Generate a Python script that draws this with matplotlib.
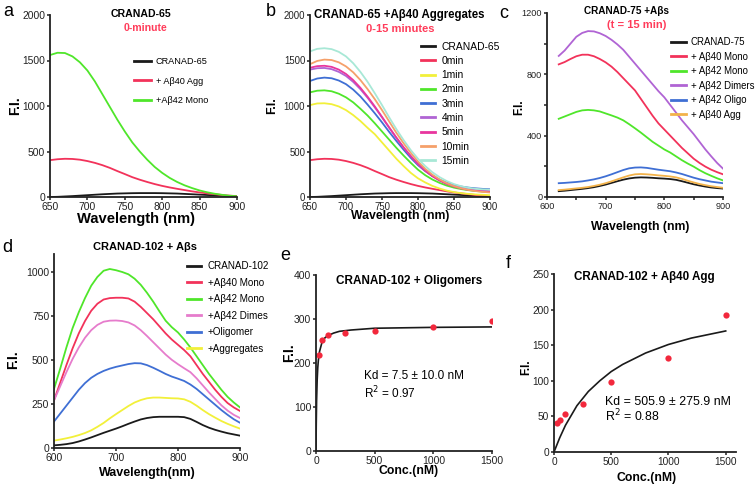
import matplotlib
matplotlib.use("Agg")
import matplotlib.pyplot as plt
import numpy as np

plt.rcParams['font.family'] = ['Liberation Sans', 'DejaVu Sans']

W, H = 756, 487

# ---------------- data ----------------
# panel a / b: wavelength 650-900 step 10
wl_ab = list(range(650, 901, 10))
a_cranad65 = [0, 2, 6, 10, 15, 20, 25, 30, 34, 38, 40, 42, 43, 43, 43, 42, 40, 38, 34, 30, 26, 22, 18, 14, 11, 8]
a_ab40agg = [405, 415, 420, 418, 410, 395, 375, 350, 320, 285, 252, 218, 190, 165, 142, 122, 105, 90, 76, 62, 50, 40, 31, 22, 15, 10]
a_ab42mono = [1560, 1585, 1582, 1545, 1480, 1390, 1270, 1130, 990, 850, 720, 600, 500, 410, 330, 265, 210, 165, 128, 98, 72, 52, 36, 24, 14, 8]

b_1min = [1010, 1028, 1030, 1020, 995, 955, 900, 835, 760, 690, 600, 510, 420, 340, 265, 205, 160, 122, 93, 70, 54, 42, 34, 28, 24, 20]
b_2min = [1150, 1168, 1172, 1162, 1135, 1095, 1040, 970, 895, 810, 720, 630, 540, 455, 375, 300, 240, 192, 155, 125, 103, 87, 75, 66, 60, 55]
b_3min = [1275, 1302, 1312, 1305, 1280, 1240, 1180, 1105, 1015, 920, 820, 715, 615, 520, 430, 350, 285, 232, 190, 158, 133, 115, 103, 95, 89, 85]
b_4min = [1400, 1415, 1418, 1405, 1375, 1330, 1265, 1185, 1090, 985, 875, 760, 650, 545, 450, 365, 292, 232, 185, 148, 120, 100, 86, 76, 70, 65]
b_5min = [1420, 1438, 1442, 1430, 1400, 1352, 1285, 1200, 1102, 995, 880, 765, 652, 545, 448, 362, 288, 228, 180, 143, 115, 94, 79, 69, 62, 58]
b_10min = [1460, 1495, 1510, 1505, 1480, 1435, 1370, 1285, 1185, 1075, 955, 830, 705, 590, 485, 390, 310, 245, 193, 152, 120, 96, 78, 65, 56, 50]
b_15min = [1600, 1628, 1635, 1625, 1595, 1545, 1470, 1375, 1265, 1140, 1010, 875, 745, 625, 515, 420, 340, 272, 218, 175, 142, 118, 101, 90, 84, 80]

# panel c: wavelength 620-900 step 10
wl_c = list(range(620, 901, 10))
c_cranad75 = [38, 41, 45, 49, 53, 58, 64, 72, 81, 92, 103, 113, 121, 126, 128, 127, 125, 122, 120, 117, 112, 103, 93, 83, 75, 68, 62, 58, 55]
c_ab40mono = [865, 880, 900, 918, 928, 928, 918, 900, 878, 850, 815, 775, 735, 695, 640, 585, 530, 480, 440, 400, 360, 320, 285, 250, 222, 198, 178, 162, 148]
c_ab42mono = [510, 525, 540, 555, 565, 568, 565, 558, 545, 532, 518, 500, 475, 448, 420, 390, 360, 335, 310, 290, 265, 240, 218, 198, 175, 155, 138, 122, 108]
c_ab42dim = [920, 955, 1000, 1045, 1070, 1082, 1080, 1068, 1050, 1025, 995, 960, 915, 870, 825, 780, 735, 690, 650, 600, 550, 500, 455, 410, 360, 310, 265, 222, 185]
c_ab42oligo = [90, 92, 95, 98, 102, 108, 115, 124, 135, 148, 162, 176, 187, 192, 193, 190, 184, 178, 173, 168, 160, 150, 138, 126, 116, 108, 100, 95, 90]
c_ab40agg = [45, 48, 52, 56, 60, 65, 72, 80, 90, 102, 115, 128, 140, 148, 150, 148, 145, 141, 138, 134, 128, 118, 106, 95, 85, 77, 70, 65, 60]

# panel d: wavelength 600-900 step 10
wl_d = list(range(600, 901, 10))
d_cranad102 = [15, 18, 22, 28, 37, 48, 60, 73, 86, 98, 110, 123, 137, 150, 162, 170, 175, 177, 177, 177, 177, 175, 165, 148, 130, 115, 103, 93, 84, 77, 70]
d_ab40mono = [270, 370, 470, 565, 650, 720, 778, 818, 842, 850, 852, 852, 848, 830, 800, 765, 730, 690, 650, 615, 585, 555, 520, 470, 420, 375, 330, 290, 255, 230, 210]
d_ab42mono = [335, 450, 570, 680, 770, 850, 920, 970, 1005, 1015, 1008, 998, 985, 960, 925, 880, 830, 775, 722, 685, 655, 615, 570, 520, 470, 420, 375, 330, 290, 258, 230]
d_ab42dim = [270, 350, 430, 505, 570, 625, 668, 698, 716, 722, 723, 720, 712, 695, 668, 635, 600, 565, 530, 500, 475, 452, 430, 395, 355, 315, 278, 242, 212, 188, 170]
d_oligomer = [150, 195, 240, 285, 330, 368, 398, 420, 437, 450, 460, 468, 476, 481, 480, 470, 455, 438, 420, 405, 393, 380, 360, 335, 305, 275, 245, 215, 188, 163, 143]
d_aggregates = [42, 48, 55, 63, 73, 85, 100, 120, 142, 168, 192, 215, 238, 258, 272, 282, 286, 286, 284, 282, 281, 276, 262, 240, 215, 192, 172, 153, 137, 123, 110]

# panel e / f: binding
conc = [25, 50, 100, 250, 500, 1000, 1500]
e_fi = [218, 252, 263, 269, 273, 282, 296]
e_fit_x = [0, 2, 5, 10, 15, 20, 30, 50, 75, 100, 150, 200, 300, 500, 750, 1000, 1500]
e_fit_y = [0, 59, 114, 162, 189, 206, 226, 246, 257, 262, 268, 272, 275, 279, 280, 281, 282]
f_fi = [41, 45, 54, 68, 98, 132, 193]
f_fit_x = [0, 50, 100, 200, 300, 400, 500, 600, 800, 1000, 1200, 1500]
f_fit_y = [0, 20, 37.5, 65, 85, 100, 113, 123, 139, 151, 160, 170]

BLACK = '#1a1a1a'
RED = '#f2325a'
GREEN = '#4fe62a'
YELLOW = '#f2f03a'
BLUE = '#3f6fd4'
PURPLE = '#b064d4'
MAGENTA = '#e8369e'
ORANGE = '#f5a06a'
CYAN = '#a8e8d6'
PINK = '#e67ccc'
LORANGE = '#f2b24a'
TRED = '#ff3c5a'


def fx(x):
    return x / W


def fy(y):
    return 1 - y / H


def make_ax(fig, x0, x1, ytop, ybot, tfs=7.2):
    ax = fig.add_axes([fx(x0), fy(ybot), (x1 - x0) / W, (ybot - ytop) / H])
    for s in ['top', 'right']:
        ax.spines[s].set_visible(False)
    for s in ['left', 'bottom']:
        ax.spines[s].set_linewidth(1.3)
        ax.spines[s].set_color('#222222')
    ax.tick_params(direction='out', length=2.5, width=1.1, labelsize=tfs, pad=0.9, colors='#222222')
    return ax


def set_labels(ax, xl, xlab_top, xlab_x, ylab_x, ylab_y, xfs=9, yfs=10):
    ax.set_xlabel(xl, fontsize=xfs, fontweight='bold')
    ax.set_ylabel('F.I.', fontsize=yfs, fontweight='bold')
    ax.xaxis.set_label_coords(fx(xlab_x), fy(xlab_top), transform=fig.transFigure)
    ax.yaxis.set_label_coords(fx(ylab_x), fy(ylab_y), transform=fig.transFigure)
    ax.xaxis.label.set_va('top')
    ax.yaxis.label.set_va('center')


def add_legend(ax, x, ytop, spacing, hl, pad, fs=6.6):
    leg = ax.legend(loc='upper left', bbox_to_anchor=(fx(x), fy(ytop)), bbox_transform=fig.transFigure,
                    frameon=False, fontsize=fs, handlelength=hl, handletextpad=pad,
                    labelspacing=spacing, borderpad=0, borderaxespad=0)
    for h in leg.legend_handles:
        h.set_linewidth(2.0)
    return leg


fig = plt.figure(figsize=(W / 100, H / 100), dpi=100)
lw = 1.3

# ---- panel a ----
ax = make_ax(fig, 50, 237, 15, 197, tfs=7.4)
ax.plot(wl_ab, a_cranad65, color=BLACK, lw=lw, label='CRANAD-65')
ax.plot(wl_ab, a_ab40agg, color=RED, lw=lw, label='+ A\u03b240 Agg')
ax.plot(wl_ab, a_ab42mono, color=GREEN, lw=lw, label='+A\u03b242 Mono')
ax.set_xlim(650, 900)
ax.set_ylim(0, 2000)
ax.set_xticks(range(650, 901, 50))
ax.set_yticks(range(0, 2001, 500))
set_labels(ax, 'Wavelength (nm)', 212.5, 136, 15, 106, xfs=10.6, yfs=10)
add_legend(ax, 134, 57, 1.15, 1.8, 0.6)
fig.text(fx(141), fy(14), 'CRANAD-65', ha='center', va='center', fontsize=7.6, fontweight='bold')
fig.text(fx(145), fy(28), '0-minute', ha='center', va='center', fontsize=7.6, fontweight='bold', color=TRED)

# ---- panel b ----
ax = make_ax(fig, 310, 490, 15, 197, tfs=6.9)
ax.plot(wl_ab, a_cranad65, color=BLACK, lw=lw, label='CRANAD-65')
ax.plot(wl_ab, a_ab40agg, color=RED, lw=lw, label='0min')
ax.plot(wl_ab, b_1min, color=YELLOW, lw=lw, label='1min')
ax.plot(wl_ab, b_2min, color=GREEN, lw=lw, label='2min')
ax.plot(wl_ab, b_3min, color=BLUE, lw=lw, label='3min')
ax.plot(wl_ab, b_4min, color=PURPLE, lw=lw, label='4min')
ax.plot(wl_ab, b_5min, color=MAGENTA, lw=lw, label='5min')
ax.plot(wl_ab, b_10min, color=ORANGE, lw=lw, label='10min')
ax.plot(wl_ab, b_15min, color=CYAN, lw=lw, label='15min')
ax.set_xlim(650, 900)
ax.set_ylim(0, 2000)
ax.set_xticks(range(650, 901, 50))
ax.set_yticks(range(0, 2001, 500))
set_labels(ax, 'Wavelength (nm)', 210.5, 400, 272, 106, xfs=8.8, yfs=9)
add_legend(ax, 421, 41.5, 0.42, 1.4, 0.6, fs=7.4)
fig.text(fx(399), fy(15), 'CRANAD-65 +A\u03b240 Aggregates', ha='center', va='center', fontsize=8.3, fontweight='bold')
fig.text(fx(400), fy(29), '0-15 minutes', ha='center', va='center', fontsize=8.0, fontweight='bold', color=TRED)

# ---- panel c ----
ax = make_ax(fig, 547, 723, 13, 197, tfs=6.6)
ax.plot(wl_c, c_cranad75, color=BLACK, lw=lw, label='CRANAD-75')
ax.plot(wl_c, c_ab40mono, color=RED, lw=lw, label='+ A\u03b240 Mono')
ax.plot(wl_c, c_ab42mono, color=GREEN, lw=lw, label='+ A\u03b242 Mono')
ax.plot(wl_c, c_ab42dim, color=PURPLE, lw=lw, label='+ A\u03b242 Dimers')
ax.plot(wl_c, c_ab42oligo, color=BLUE, lw=lw, label='+ A\u03b242 Oligo')
ax.plot(wl_c, c_ab40agg, color=LORANGE, lw=lw, label='+ A\u03b240 Agg')
ax.set_xlim(600, 900)
ax.set_ylim(0, 1200)
ax.set_xticks(range(600, 901, 100))
ax.set_xticks(range(650, 901, 100), minor=True)
ax.set_yticks(range(0, 1201, 400))
ax.set_yticks(range(200, 1201, 400), minor=True)
ax.tick_params(which='minor', direction='out', length=2.5, width=1.1, colors='#222222')
set_labels(ax, 'Wavelength (nm)', 221, 640, 519, 107, xfs=8.8, yfs=8.5)
add_legend(ax, 671, 37, 0.47, 1.6, 0.45, fs=6.9)
fig.text(fx(627), fy(11), 'CRANAD-75 +A\u03b2s', ha='center', va='center', fontsize=7.2, fontweight='bold')
fig.text(fx(637), fy(25), '(t = 15 min)', ha='center', va='center', fontsize=8.0, fontweight='bold', color=TRED)

# ---- panel d ----
ax = make_ax(fig, 54, 240, 254, 448, tfs=7.5)
ax.plot(wl_d, d_cranad102, color=BLACK, lw=lw, label='CRANAD-102')
ax.plot(wl_d, d_ab40mono, color=RED, lw=lw, label='+A\u03b240 Mono')
ax.plot(wl_d, d_ab42mono, color=GREEN, lw=lw, label='+A\u03b242 Mono')
ax.plot(wl_d, d_ab42dim, color=PINK, lw=lw, label='+A\u03b242 Dimes')
ax.plot(wl_d, d_oligomer, color=BLUE, lw=lw, label='+Oligomer')
ax.plot(wl_d, d_aggregates, color=YELLOW, lw=lw, label='+Aggregates')
ax.set_xlim(600, 900)
ax.set_ylim(0, 1100)
ax.set_xticks(range(600, 901, 100))
ax.set_yticks(range(0, 1001, 250))
set_labels(ax, 'Wavelength(nm)', 467, 147, 13, 360, xfs=9, yfs=10)
add_legend(ax, 187, 261, 0.66, 1.4, 0.7, fs=7.1)
fig.text(fx(145), fy(247), 'CRANAD-102 + A\u03b2s', ha='center', va='center', fontsize=8.0, fontweight='bold')

# ---- panel e ----
ax = make_ax(fig, 316, 492, 275, 451, tfs=7.5)
ax.plot(e_fit_x, e_fit_y, color=BLACK, lw=1.2)
ax.plot(conc, e_fi, 'o', color='#f2283c', ms=4.5, mec='none')
ax.set_xlim(0, 1500)
ax.set_ylim(0, 400)
ax.set_xticks(range(0, 1501, 500))
ax.set_yticks(range(0, 401, 100))
set_labels(ax, 'Conc.(nM)', 465, 409, 289, 353, xfs=8.8, yfs=10)
ax.text(410, 170, 'Kd = 7.5 \u00b1 10.0 nM', fontsize=8.5, va='center')
ax.text(410, 132, 'R$^2$ = 0.97', fontsize=8.5, va='center')
fig.text(fx(409), fy(281), 'CRANAD-102 + Oligomers', ha='center', va='center', fontsize=8.5, fontweight='bold')

# ---- panel f ----
ax = make_ax(fig, 554, 736, 274, 452, tfs=7.3)
ax.plot(f_fit_x, f_fit_y, color=BLACK, lw=1.2)
ax.plot(conc, f_fi, 'o', color='#f2283c', ms=4.5, mec='none')
ax.set_xlim(0, 1590)
ax.set_ylim(0, 250)
ax.set_xticks(range(0, 1501, 500))
ax.set_yticks(range(0, 251, 50))
set_labels(ax, 'Conc.(nM)', 472, 647, 526, 367, xfs=8.8, yfs=8.5)
ax.text(443, 70, 'Kd = 505.9 \u00b1 275.9 nM', fontsize=8.9, va='center')
ax.text(443, 50, 'R$^2$ = 0.88', fontsize=8.9, va='center')
fig.text(fx(644), fy(277), 'CRANAD-102 + A\u03b240 Agg', ha='center', va='center', fontsize=8.4, fontweight='bold')

# panel letters
for letter, x, y in [('a', 8, 11), ('b', 271, 12), ('c', 504, 13), ('d', 7, 247), ('e', 285, 255), ('f', 508, 263)]:
    fig.text(fx(x), fy(y), letter, ha='center', va='center', fontsize=13)

fig.savefig('out.png', dpi=100)
